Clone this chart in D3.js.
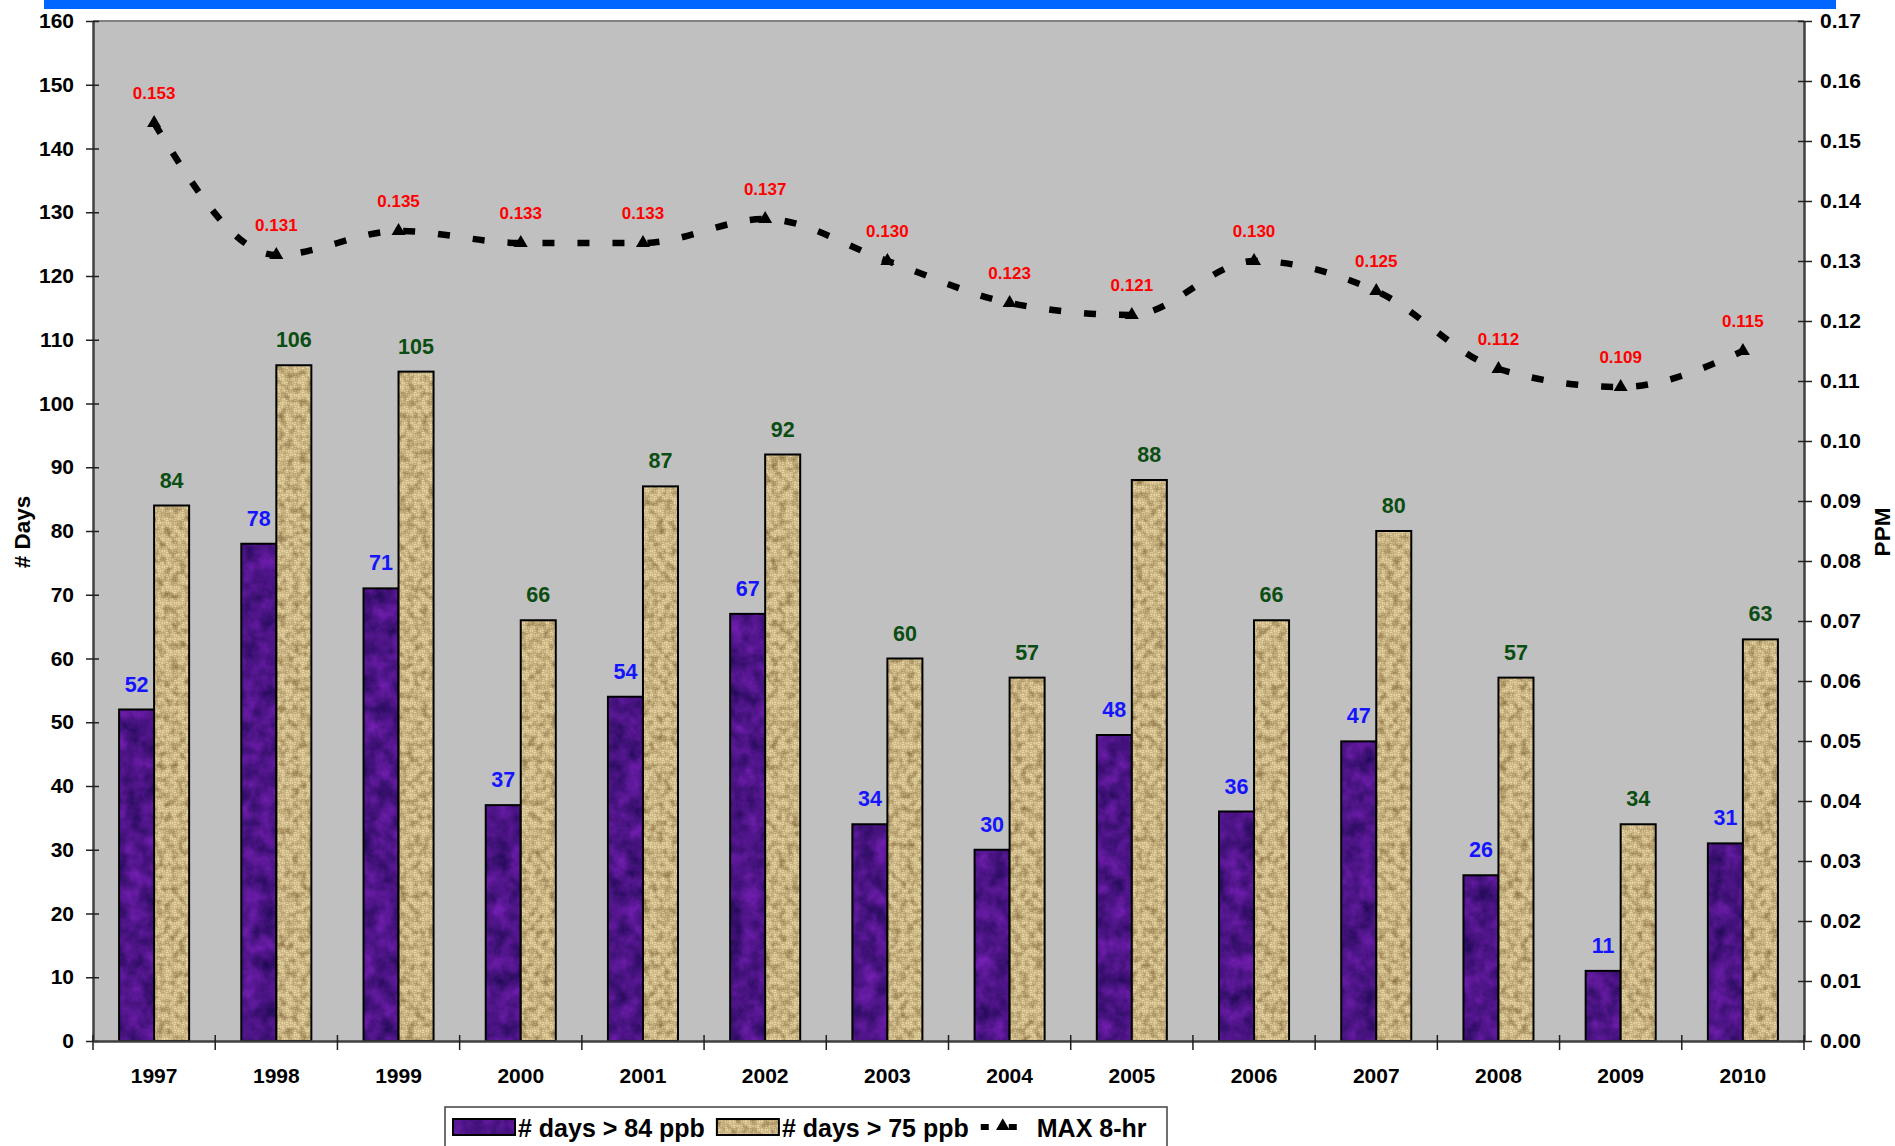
<!DOCTYPE html>
<html>
<head>
<meta charset="utf-8">
<script src="https://cdn.jsdelivr.net/npm/d3@7"></script>
<style>
  body { margin: 0; background: #fff; }
  text { font-family: "Liberation Sans", Arial, sans-serif; font-weight: bold; }
  filter { color-interpolation-filters: sRGB; }
</style>
</head>
<body>
<div id="target"></div>
<script>
// values
const years = [1997, 1998, 1999, 2000, 2001, 2002, 2003, 2004, 2005, 2006, 2007, 2008, 2009, 2010];
const days84 = [52, 78, 71, 37, 54, 67, 34, 30, 48, 36, 47, 26, 11, 31];
const days75 = [84, 106, 105, 66, 87, 92, 60, 57, 88, 66, 80, 57, 34, 63];
const max8hr = [0.153, 0.131, 0.135, 0.133, 0.133, 0.137, 0.130, 0.123, 0.121, 0.130, 0.125, 0.112, 0.109, 0.115];
const daysTicks = [0, 10, 20, 30, 40, 50, 60, 70, 80, 90, 100, 110, 120, 130, 140, 150, 160];
const ppmTicks = [0, 0.01, 0.02, 0.03, 0.04, 0.05, 0.06, 0.07, 0.08, 0.09, 0.10, 0.11, 0.12, 0.13, 0.14, 0.15, 0.16, 0.17];
const seriesNames = ["# days > 84 ppb", "# days > 75 ppb", "MAX 8-hr"];

const W = 1895, H = 1146;
const margin = {top: 21, right: 91, bottom: 105, left: 93},
  width = W - margin.left - margin.right,
  height = H - margin.top - margin.bottom;

let svg = d3.select("#target").append("svg")
  .attr("width", W)
  .attr("height", H);

// textures
let defs = svg.append("defs");

let purpleF = defs.append("filter").attr("id", "purpleTex")
  .attr("x", 0).attr("y", 0).attr("width", 1).attr("height", 1)
  .attr("color-interpolation-filters", "sRGB");
purpleF.append("feTurbulence").attr("type", "fractalNoise")
  .attr("baseFrequency", 0.06).attr("numOctaves", 4).attr("seed", 3).attr("result", "n");
purpleF.append("feColorMatrix").attr("in", "n").attr("type", "matrix")
  .attr("values", "0.4 0 0 0 0.1  0.1 0 0 0 0.03  0.45 0 0 0 0.3  0 0 0 0 1")
  .attr("result", "c");
purpleF.append("feComposite").attr("in", "c").attr("in2", "SourceGraphic").attr("operator", "in");

let weave = defs.append("pattern").attr("id", "weave")
  .attr("patternUnits", "userSpaceOnUse").attr("width", 8).attr("height", 8);
weave.append("rect").attr("width", 8).attr("height", 8).attr("fill", "#9a7c46");
// basket weave threads
[[0, 0, "h"], [4, 0, "v"], [0, 4, "v"], [4, 4, "h"]].forEach(([qx, qy, dir]) => {
  [0.3, 2.3].forEach(o => {
    if (dir === "h") weave.append("rect").attr("x", qx + 0.2).attr("y", qy + o).attr("width", 3.6).attr("height", 1.6).attr("fill", "#efdeae");
    else weave.append("rect").attr("x", qx + o).attr("y", qy + 0.2).attr("width", 1.6).attr("height", 3.6).attr("fill", "#efdeae");
  });
});

let burlapF = defs.append("filter").attr("id", "burlap")
  .attr("x", 0).attr("y", 0).attr("width", 1).attr("height", 1)
  .attr("color-interpolation-filters", "sRGB");
burlapF.append("feTurbulence").attr("type", "fractalNoise")
  .attr("baseFrequency", 0.14).attr("numOctaves", 2).attr("seed", 7).attr("result", "n");
burlapF.append("feColorMatrix").attr("in", "n").attr("type", "matrix")
  .attr("values", "0 0 0 0 0.38  0 0 0 0 0.27  0 0 0 0 0.1  1.2 0 0 0 -0.48")
  .attr("result", "shade");
burlapF.append("feComposite").attr("in", "shade").attr("in2", "SourceGraphic").attr("operator", "atop");

// blue strip on top
svg.append("rect").attr("x", 44).attr("y", 0).attr("width", 1792).attr("height", 9).attr("fill", "#0066ff");

let x = d3.scaleBand().domain(years).range([0, width]);
let xs = d3.scaleBand().domain(["d84", "d75"]).range([0, x.bandwidth()]).paddingOuter(0.745);
let y = d3.scaleLinear().domain([0, 160]).range([height, 0]);
let y2 = d3.scaleLinear().domain([0, 0.17]).range([height, 0]);

let g = svg.append("g").attr("transform", `translate(${margin.left},${margin.top})`);

g.append("rect").attr("width", width).attr("height", height).attr("fill", "#c0c0c0");
g.append("line").attr("x1", 0).attr("x2", width).attr("y1", 0).attr("y2", 0)
  .attr("stroke", "#808080").attr("stroke-width", 2);

// bars
const rows = years.map((yr, i) => ({year: yr, d84: days84[i], d75: days75[i], max: max8hr[i]}));
const series = [
  {key: "d84", fill: "#4a168c", filter: "url(#purpleTex)", label: "#1414ff"},
  {key: "d75", fill: "url(#weave)", filter: "url(#burlap)", label: "#0b4d12"}
];

series.forEach(s => {
  let bx = d => x(d.year) + xs(s.key);
  g.append("g").selectAll("rect").data(rows).join("rect")
    .attr("x", bx).attr("y", d => y(d[s.key]))
    .attr("width", xs.bandwidth()).attr("height", d => height - y(d[s.key]))
    .attr("fill", s.fill).attr("filter", s.filter);
  g.append("g").selectAll("rect").data(rows).join("rect")
    .attr("x", bx).attr("y", d => y(d[s.key]))
    .attr("width", xs.bandwidth()).attr("height", d => height - y(d[s.key]))
    .attr("fill", "none").attr("stroke", "#000").attr("stroke-width", 2);
  g.append("g").selectAll("text").data(rows).join("text")
    .attr("x", d => bx(d) + xs.bandwidth() / 2).attr("y", d => y(d[s.key]) - 18)
    .attr("text-anchor", "middle").attr("font-size", 21.5).attr("fill", s.label)
    .text(d => d[s.key]);
});

// axes
let yAxis = g.append("g")
  .call(d3.axisLeft(y).tickValues(daysTicks).tickSize(7).tickSizeOuter(0).tickPadding(12));
yAxis.selectAll(".tick line").attr("x1", 6).attr("stroke", "#202020").attr("stroke-width", 1.5);

let y2Axis = g.append("g").attr("transform", `translate(${width},0)`)
  .call(d3.axisRight(y2).tickValues(ppmTicks).tickFormat(d3.format(".2f")).tickSize(8).tickSizeOuter(0).tickPadding(8));
y2Axis.selectAll(".tick line").attr("x1", -6).attr("stroke", "#202020").attr("stroke-width", 1.5);

let xAxis = g.append("g").attr("transform", `translate(0,${height})`)
  .call(d3.axisBottom(x).tickSize(0).tickSizeOuter(0).tickPadding(27));

g.append("g").attr("transform", `translate(0,${height})`)
  .selectAll("line").data(years.map(d => x(d)).concat([x.range()[1]])).join("line")
  .attr("x1", d => d).attr("x2", d => d).attr("y1", -6).attr("y2", 9)
  .attr("stroke", "#202020").attr("stroke-width", 1.5);

[yAxis, y2Axis, xAxis].forEach(a => {
  a.select(".domain").attr("stroke", "#404040").attr("stroke-width", 2.5);
  a.selectAll(".tick text").attr("font-size", 21).attr("fill", "#000")
    .attr("font-family", "Liberation Sans, Arial, sans-serif").attr("font-weight", "bold");
});

// MAX 8-hr line
let cx = d => x(d.year) + x.bandwidth() / 2;
let valueline = d3.line().x(cx).y(d => y2(d.max)).curve(d3.curveMonotoneX);

g.append("path").datum(rows).attr("d", valueline)
  .attr("fill", "none").attr("stroke", "#000").attr("stroke-width", 6.5)
  .attr("stroke-dasharray", "12,23");

g.append("g").selectAll("path").data(rows).join("path")
  .attr("transform", d => `translate(${cx(d)},${y2(d.max)})`)
  .attr("d", d3.symbol(d3.symbolTriangle, 85)).attr("fill", "#000");

g.append("g").selectAll("text").data(rows).join("text")
  .attr("x", cx).attr("y", d => y2(d.max) - 24)
  .attr("text-anchor", "middle").attr("font-size", 17).attr("fill", "#ff0000")
  .text(d => d3.format(".3f")(d.max));

// axis titles
svg.append("text").attr("transform", "translate(22,532) rotate(-90)")
  .attr("text-anchor", "middle").attr("dominant-baseline", "central")
  .attr("font-size", 22.5).text("# Days");
svg.append("text").attr("transform", "translate(1882,532) rotate(-90)")
  .attr("text-anchor", "middle").attr("dominant-baseline", "central")
  .attr("font-size", 22.5).text("PPM");

// legend
let lg = svg.append("g");
lg.append("rect").attr("x", 445).attr("y", 1107).attr("width", 722).attr("height", 60)
  .attr("fill", "#fff").attr("stroke", "#404040").attr("stroke-width", 1.5);

let lx = 453;
const ly = 1137;
series.forEach((s, i) => {
  lg.append("rect").attr("x", lx).attr("y", 1119).attr("width", 62).attr("height", 16)
    .attr("fill", s.fill).attr("filter", s.filter);
  lg.append("rect").attr("x", lx).attr("y", 1119).attr("width", 62).attr("height", 16)
    .attr("fill", "none").attr("stroke", "#000").attr("stroke-width", 2);
  let t = lg.append("text").attr("x", lx + 65).attr("y", ly).attr("font-size", 25).text(seriesNames[i]);
  lx = lx + 65 + t.node().getComputedTextLength() + 12;
});
lg.append("line").attr("x1", lx).attr("x2", lx + 36).attr("y1", 1127).attr("y2", 1127)
  .attr("stroke", "#000").attr("stroke-width", 6).attr("stroke-dasharray", "8,20,8");
lg.append("path").attr("transform", `translate(${lx + 22},1126)`)
  .attr("d", d3.symbol(d3.symbolTriangle, 80)).attr("fill", "#000");
lg.append("text").attr("x", lx + 56).attr("y", ly).attr("font-size", 25).text(seriesNames[2]);
</script>
</body>
</html>
